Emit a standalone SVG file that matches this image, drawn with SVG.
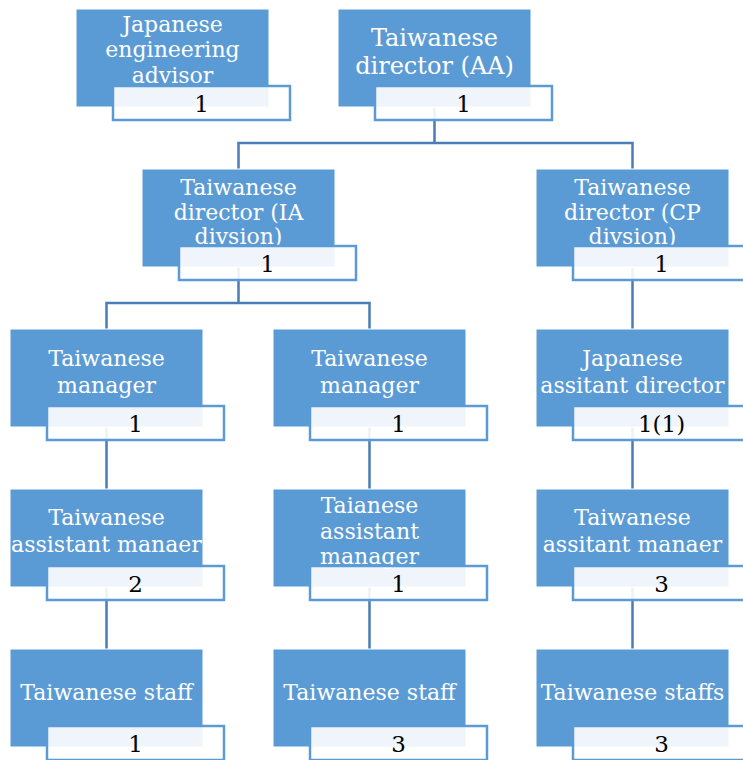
<svg xmlns="http://www.w3.org/2000/svg" width="743" height="760" viewBox="0 0 743 760">
<style>
.box{fill:#5B9BD5;stroke:#ffffff;stroke-width:1}
.lab{fill:#ffffff;fill-opacity:0.9;stroke:#5B9BD5;stroke-width:2.5}
.t{font-family:"DejaVu Serif","Liberation Serif",serif;font-size:22px;fill:#ffffff;text-anchor:middle}
.big{font-size:24px}
.n{font-family:"DejaVu Serif","Liberation Serif",serif;font-size:23px;fill:#000000;text-anchor:middle}
.c{fill:none;stroke:#4A7DB5;stroke-width:2.5}
</style>
<rect width="743" height="760" fill="#ffffff"/>
<g id="connectors">
<path class="c" d="M434.5,107 V143 M238.5,169 V143 H632.5 V169"/>
<path class="c" d="M238.5,267 V303 M106.5,329 V303 H369.5 V329"/>
<path class="c" d="M632.5,267 V329"/>
<path class="c" d="M106.5,427 V489 M106.5,587 V649"/>
<path class="c" d="M369.5,427 V489 M369.5,587 V649"/>
<path class="c" d="M632.5,427 V489 M632.5,587 V649"/>
</g>
<g id="n1">
<rect class="box" x="76" y="9" width="193" height="98"/>
<text class="t" x="172.5" y="32">Japanese</text>
<text class="t" x="172.5" y="57">engineering</text>
<text class="t" x="172.5" y="83">advisor</text>
<rect class="lab" x="113" y="86" width="177" height="34"/>
<text class="n" x="201.5" y="112">1</text>
</g>
<g id="n2">
<rect class="box" x="338" y="9" width="193" height="98"/>
<text class="t big" x="434.5" y="46">Taiwanese</text>
<text class="t big" x="434.5" y="74">director (AA)</text>
<rect class="lab" x="375" y="86" width="177" height="34"/>
<text class="n" x="463.5" y="112">1</text>
</g>
<g id="n3">
<rect class="box" x="142" y="169" width="193" height="98"/>
<text class="t" x="238.5" y="195">Taiwanese</text>
<text class="t" x="238.5" y="220">director (IA</text>
<text class="t" x="238.5" y="244">divsion)</text>
<rect class="lab" x="179" y="246" width="177" height="34"/>
<text class="n" x="267.5" y="272">1</text>
</g>
<g id="n4">
<rect class="box" x="536" y="169" width="193" height="98"/>
<text class="t" x="632.5" y="195">Taiwanese</text>
<text class="t" x="632.5" y="220">director (CP</text>
<text class="t" x="632.5" y="244">divsion)</text>
<rect class="lab" x="573" y="246" width="177" height="34"/>
<text class="n" x="661.5" y="272">1</text>
</g>
<g id="n5">
<rect class="box" x="10" y="329" width="193" height="98"/>
<text class="t" x="106.5" y="366">Taiwanese</text>
<text class="t" x="106.5" y="393">manager</text>
<rect class="lab" x="47" y="406" width="177" height="34"/>
<text class="n" x="135.5" y="432">1</text>
</g>
<g id="n6">
<rect class="box" x="273" y="329" width="193" height="98"/>
<text class="t" x="369.5" y="366">Taiwanese</text>
<text class="t" x="369.5" y="393">manager</text>
<rect class="lab" x="310" y="406" width="177" height="34"/>
<text class="n" x="398.5" y="432">1</text>
</g>
<g id="n7">
<rect class="box" x="536" y="329" width="193" height="98"/>
<text class="t" x="632.5" y="366">Japanese</text>
<text class="t" x="632.5" y="393">assitant director</text>
<rect class="lab" x="573" y="406" width="177" height="34"/>
<text class="n" x="661.5" y="432">1(1)</text>
</g>
<g id="n8">
<rect class="box" x="10" y="489" width="193" height="98"/>
<text class="t" x="106.5" y="525">Taiwanese</text>
<text class="t" x="106.5" y="552">assistant manaer</text>
<rect class="lab" x="47" y="566" width="177" height="34"/>
<text class="n" x="135.5" y="592">2</text>
</g>
<g id="n9">
<rect class="box" x="273" y="489" width="193" height="98"/>
<text class="t" x="369.5" y="513">Taianese</text>
<text class="t" x="369.5" y="539">assistant</text>
<text class="t" x="369.5" y="564">manager</text>
<rect class="lab" x="310" y="566" width="177" height="34"/>
<text class="n" x="398.5" y="592">1</text>
</g>
<g id="n10">
<rect class="box" x="536" y="489" width="193" height="98"/>
<text class="t" x="632.5" y="525">Taiwanese</text>
<text class="t" x="632.5" y="552">assitant manaer</text>
<rect class="lab" x="573" y="566" width="177" height="34"/>
<text class="n" x="661.5" y="592">3</text>
</g>
<g id="n11">
<rect class="box" x="10" y="649" width="193" height="98"/>
<text class="t" x="106.5" y="700">Taiwanese staff</text>
<rect class="lab" x="47" y="726" width="177" height="34"/>
<text class="n" x="135.5" y="752">1</text>
</g>
<g id="n12">
<rect class="box" x="273" y="649" width="193" height="98"/>
<text class="t" x="369.5" y="700">Taiwanese staff</text>
<rect class="lab" x="310" y="726" width="177" height="34"/>
<text class="n" x="398.5" y="752">3</text>
</g>
<g id="n13">
<rect class="box" x="536" y="649" width="193" height="98"/>
<text class="t" x="632.5" y="700">Taiwanese staffs</text>
<rect class="lab" x="573" y="726" width="177" height="34"/>
<text class="n" x="661.5" y="752">3</text>
</g>
</svg>
